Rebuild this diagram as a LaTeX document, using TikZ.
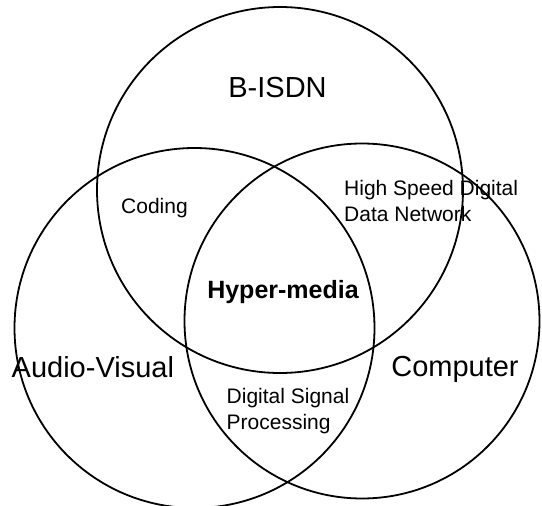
\documentclass[tikz,border=0pt]{standalone}
\usepackage{fontspec}
\setmainfont{Liberation Sans}
\usetikzlibrary{positioning}

\begin{document}
\begin{tikzpicture}[x=1pt, y=-1pt,
    ring/.style={draw, circle, line width=1.8pt, inner sep=0pt},
    big/.style={font=\fontsize{29}{34}\selectfont, inner sep=0pt},
    small/.style={font=\fontsize{21}{25.7}\selectfont, inner sep=0pt, align=left},
    centre/.style={font=\fontsize{25}{30}\selectfont\bfseries, inner sep=0pt}]

    \useasboundingbox (0,0) rectangle (542,506);

    % the three sets
    \node[ring, minimum size=366pt] (isdn) at (280,190) {};
    \node[ring, minimum size=360pt] (av) at (194.5,328) {};
    \node[ring, minimum size=355pt] (comp) at (362,321) {};

    % set names
    \node[big, anchor=base] (isdnlabel) at (277.5,97) {B-ISDN};
    \node[big, anchor=base west] (avlabel) at (11.5,377) {Audio-Visual};
    \node[big, anchor=base] (complabel) at (455,376.5) {Computer};

    % overlaps
    \node[small, anchor=north west] (network) at (344,180) {High Speed Digital\\Data Network};
    \node[small, anchor=base] (coding) at (154.5,213) {Coding};
    \node[small, anchor=north west] (dsp) at (226.5,388) {Digital Signal\\Processing};
    \node[centre, anchor=base] (hyper) at (283,298) {Hyper-media};

\end{tikzpicture}
\end{document}
